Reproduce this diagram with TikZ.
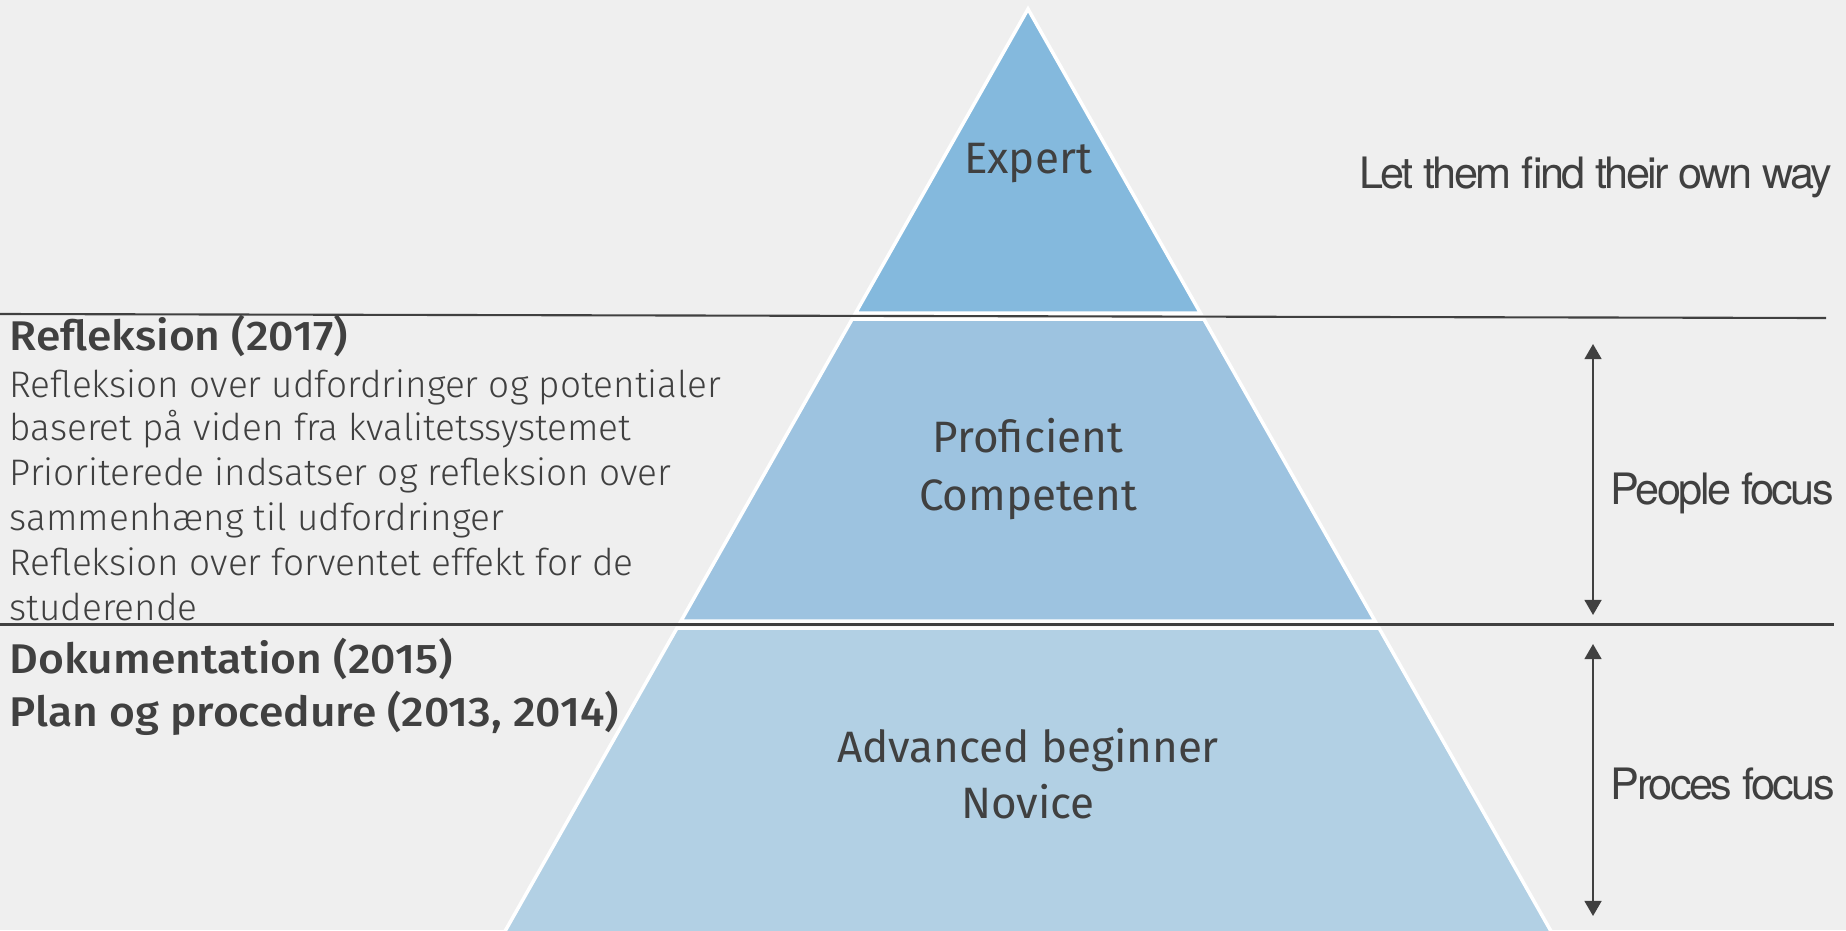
\documentclass[tikz,border=0pt]{standalone}
\usepackage{fontspec}
\setmainfont{Fira Sans}
\newfontfamily\lightfont{Fira Sans Light}
\newfontfamily\headfont[FakeStretch=1.07]{Fira Sans Medium}
\newfontfamily\sidefont[LetterSpace=-5.8]{TeX Gyre Heros}
\usetikzlibrary{arrows.meta}
\definecolor{bgcol}{HTML}{EFEFEF}
\definecolor{expertcol}{HTML}{84B9DD}
\definecolor{profcol}{HTML}{9DC3E0}
\definecolor{novicecol}{HTML}{B2D0E4}
\definecolor{inkcol}{HTML}{404040}
\tikzset{
  level/.style={draw=white, line width=1pt},
  sepline/.style={draw=inkcol, line width=0.6pt},
  focusarrow/.style={draw=inkcol, line width=0.6pt,
    {Triangle[width=4.8pt,length=4.3pt]}-{Triangle[width=4.8pt,length=4.3pt]}},
  stagetext/.style={inner sep=0pt, text=inkcol, anchor=base,
    font=\fontsize{12.5}{16}\selectfont},
  headtext/.style={inner sep=0pt, text=inkcol, anchor=base west,
    font=\headfont\fontsize{11.8}{14}\selectfont},
  bodytext/.style={inner sep=0pt, text=inkcol, anchor=base west,
    font=\lightfont\fontsize{10.5}{12.7}\selectfont},
  sidetext/.style={inner sep=0pt, text=inkcol, anchor=base west,
    font=\sidefont\fontsize{12.3}{15}\selectfont}
}

\begin{document}
\begin{tikzpicture}[x=0.01cm, y=-0.01cm]
		%%%%% START %%%%%
		
		\fill[bgcol] (0, 0) rectangle (1846, 930);
		\useasboundingbox (0, 0) rectangle (1846, 930);
		\clip (0, 0) rectangle (1846, 930);
		
		% pyramid
		\draw[level, fill=expertcol] (1028, 9) -- (1200.4, 313) -- (855.6, 313) -- cycle;
		\draw[level, fill=profcol] (852.2, 319) -- (1203.8, 319) -- (1375, 621) -- (681, 621) -- cycle;
		\draw[level, fill=novicecol] (677, 628) -- (1379, 628) -- (1556, 940) -- (500, 940) -- cycle;
		
		\draw[sepline] (0, 314) -- (1826, 318);
		\draw[sepline] (0, 624.5) -- (1834, 624.5);
		
		\node[stagetext] (expert) at (1028, 173) {Expert};
		\node[stagetext] (proficient) at (1028, 452) {Proficient};
		\node[stagetext] (competent) at (1028, 510) {Competent};
		\node[stagetext] (advanced) at (1028, 762) {Advanced beginner};
		\node[stagetext] (novice) at (1028, 818) {Novice};
		
		% left column
		\node[headtext] (refl) at (9, 350) {Refleksion (2017)};
		\node[bodytext] (refl1) at (9, 397) {Refleksion over udfordringer og potentialer};
		\node[bodytext] (refl2) at (9, 440) {baseret på viden fra kvalitetssystemet};
		\node[bodytext] (refl3) at (9, 485) {Prioriterede indsatser og refleksion over};
		\node[bodytext] (refl4) at (9, 530) {sammenhæng til udfordringer};
		\node[bodytext] (refl5) at (9, 575) {Refleksion over forventet effekt for de};
		\node[bodytext] (refl6) at (9, 620) {studerende};
		\node[headtext] (doku) at (9, 673) {Dokumentation (2015)};
		\node[headtext] (plan) at (9, 726) {Plan og procedure (2013, 2014)};
		
		% right column
		\node[sidetext, anchor=base east] (ownway) at (1833, 188) {Let them find their own way};
		\node[sidetext] (people) at (1610, 504) {People focus};
		\node[sidetext] (proces) at (1610, 799) {Proces focus};
		
		\coordinate (peopletop) at (1593, 344);
		\coordinate (peoplebot) at (1593, 615);
		\coordinate (procestop) at (1593, 644);
		\coordinate (procesbot) at (1593, 916);
		\draw[focusarrow] (peopletop) -- (peoplebot);
		\draw[focusarrow] (procestop) -- (procesbot);
		
		%%%%% END %%%%%
\end{tikzpicture}
\end{document}
